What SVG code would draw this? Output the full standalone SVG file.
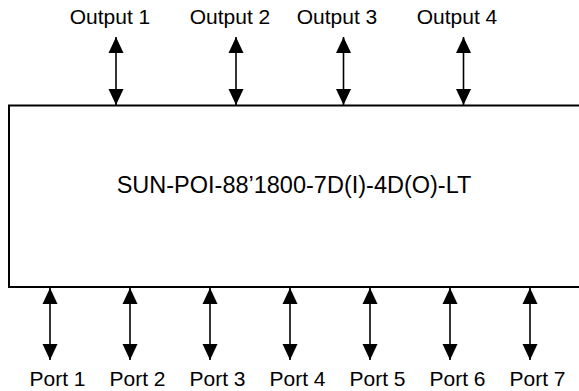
<svg xmlns="http://www.w3.org/2000/svg" width="579" height="391" viewBox="0 0 579 391">
<style>
text{font-family:"Liberation Sans",Arial,sans-serif;fill:#000}
.lbl{font-size:21px;text-anchor:middle}
.main{font-size:23.5px;text-anchor:middle}
.box{fill:#fff;stroke:#000;stroke-width:2}
.conn line{stroke:#000;stroke-width:1.6;marker-start:url(#ah);marker-end:url(#ah)}
</style>
<defs>
<marker id="ah" viewBox="0 0 16 16" refX="16" refY="8" markerWidth="16" markerHeight="16" markerUnits="userSpaceOnUse" orient="auto-start-reverse">
<path d="M0,0.5 L16,8 L0,15.5 Z" fill="#000"/>
</marker>
</defs>
<g id="device">
<rect class="box" x="9" y="105.5" width="590" height="181.5"/>
<text class="main" x="294" y="193">SUN-POI-88’1800-7D(I)-4D(O)-LT</text>
</g>
<g id="out1"><text class="lbl" x="110" y="23.5">Output 1</text></g>
<g id="out2"><text class="lbl" x="230" y="23.5">Output 2</text></g>
<g id="out3"><text class="lbl" x="337" y="23.5">Output 3</text></g>
<g id="out4"><text class="lbl" x="457" y="23.5">Output 4</text></g>
<g id="port1"><text class="lbl" x="57.5" y="386">Port 1</text></g>
<g id="port2"><text class="lbl" x="137.5" y="386">Port 2</text></g>
<g id="port3"><text class="lbl" x="217.5" y="386">Port 3</text></g>
<g id="port4"><text class="lbl" x="297.5" y="386">Port 4</text></g>
<g id="port5"><text class="lbl" x="377.5" y="386">Port 5</text></g>
<g id="port6"><text class="lbl" x="457.5" y="386">Port 6</text></g>
<g id="port7"><text class="lbl" x="537.5" y="386">Port 7</text></g>
<g class="conn" id="connectors">
<line x1="116" y1="37" x2="116" y2="105"/>
<line x1="236" y1="37" x2="236" y2="105"/>
<line x1="343.5" y1="37" x2="343.5" y2="105"/>
<line x1="463.5" y1="37" x2="463.5" y2="105"/>
<line x1="50" y1="288" x2="50" y2="360"/>
<line x1="130" y1="288" x2="130" y2="360"/>
<line x1="210" y1="288" x2="210" y2="360"/>
<line x1="290" y1="288" x2="290" y2="360"/>
<line x1="370" y1="288" x2="370" y2="360"/>
<line x1="450" y1="288" x2="450" y2="360"/>
<line x1="530" y1="288" x2="530" y2="360"/>
</g>
</svg>
